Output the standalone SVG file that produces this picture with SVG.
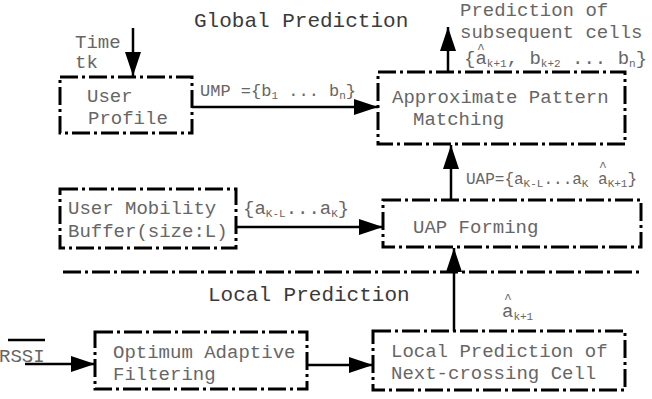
<svg xmlns="http://www.w3.org/2000/svg" width="652" height="399" viewBox="0 0 652 399">
<style>
.box{fill:none;stroke:#000;stroke-width:3;stroke-dasharray:18 4 3 4}
.wire{fill:none;stroke:#000;stroke-width:2.5}
.t{font-family:"Liberation Mono","DejaVu Sans Mono",monospace;font-size:19px;fill:#666}
.h{font-size:21px;fill:#3a3a3a}
.m{font-size:17px}
.u{font-size:16px}
.s{font-size:11px}
.hat{font-size:13px}
</style>
<defs>
<marker id="ah" markerUnits="userSpaceOnUse" markerWidth="24" markerHeight="16" refX="24" refY="8" orient="auto"><path d="M0,0L24,8L0,16z" fill="#000"/></marker>
</defs>
<rect width="652" height="399" fill="#fff"/>
<text class="t h" x="194" y="27">Global Prediction</text>
<text class="t h" x="208" y="301">Local Prediction</text>
<line class="box" x1="63" y1="272" x2="642" y2="272"/>
<g id="user-profile">
<rect class="box" x="60" y="77" width="132" height="56"/>
<text class="t" x="87" y="102">User</text>
<text class="t" x="88" y="124">Profile</text>
</g>
<g id="pattern-matching">
<rect class="box" x="378" y="72" width="247" height="72"/>
<text class="t" x="392" y="103">Approximate Pattern</text>
<text class="t" x="413" y="125">Matching</text>
</g>
<g id="mobility-buffer">
<rect class="box" x="60" y="189" width="176" height="59"/>
<text class="t" x="68" y="214">User Mobility</text>
<text class="t" x="68" y="237">Buffer(size:L)</text>
</g>
<g id="uap-forming">
<rect class="box" x="383" y="200" width="258" height="47"/>
<text class="t" x="413" y="233">UAP Forming</text>
</g>
<g id="adaptive-filtering">
<rect class="box" x="95" y="332" width="212" height="57"/>
<text class="t" x="113" y="358">Optimum Adaptive</text>
<text class="t" x="113" y="380">Filtering</text>
</g>
<g id="local-prediction">
<rect class="box" x="373" y="331" width="252" height="59"/>
<text class="t" x="391" y="357">Local Prediction of</text>
<text class="t" x="391" y="379">Next-crossing Cell</text>
</g>
<g id="connectors">
<line class="wire" x1="133" y1="28" x2="133" y2="76" marker-end="url(#ah)"/>
<line class="wire" x1="192" y1="107" x2="378" y2="107" marker-end="url(#ah)"/>
<line class="wire" x1="448" y1="72" x2="448" y2="27" marker-end="url(#ah)"/>
<line class="wire" x1="451" y1="200" x2="451" y2="145" marker-end="url(#ah)"/>
<line class="wire" x1="236" y1="227" x2="383" y2="227" marker-end="url(#ah)"/>
<line class="wire" x1="454" y1="331" x2="454" y2="248" marker-end="url(#ah)"/>
<line class="wire" x1="25" y1="364" x2="95" y2="364" marker-end="url(#ah)"/>
<line class="wire" x1="307" y1="365" x2="373" y2="365" marker-end="url(#ah)"/>
<line class="wire" x1="8" y1="340" x2="45" y2="340"/>
</g>
<g id="labels">
<text class="t" x="75" y="48">Time</text>
<text class="t" x="75" y="68">tk</text>
<text class="t m" x="200" y="96">UMP ={b<tspan class="s" dy="3">1</tspan><tspan dy="-3"> ... b</tspan><tspan class="s" dy="3">n</tspan><tspan dy="-3">}</tspan></text>
<text class="t" x="460" y="16">Prediction of</text>
<text class="t" x="460" y="38">subsequent cells</text>
<text class="t" x="464" y="64">{a<tspan class="s" dy="3">k+1</tspan><tspan dy="-3">, b</tspan><tspan class="s" dy="3">k+2</tspan><tspan dy="-3"> ... b</tspan><tspan class="s" dy="3">n</tspan><tspan dy="-3">}</tspan><tspan class="hat" x="477" y="53">^</tspan></text>
<text class="t u" x="466" y="184">UAP={a<tspan class="s" dy="3">K-L</tspan><tspan dy="-3">...a</tspan><tspan class="s" dy="3">K</tspan><tspan dy="-3"> a</tspan><tspan class="s" dy="3">K+1</tspan><tspan dy="-3">}</tspan><tspan class="hat" x="599" y="171">^</tspan></text>
<text class="t" x="243" y="214">{a<tspan class="s" dy="3">K-L</tspan><tspan dy="-3">...a</tspan><tspan class="s" dy="3">K</tspan><tspan dy="-3">}</tspan></text>
<text class="t" x="502" y="317">a<tspan class="s" dy="3">k+1</tspan><tspan class="hat" x="504" y="303">^</tspan></text>
<text class="t" x="-1" y="362">RSSI</text>
</g>
</svg>
